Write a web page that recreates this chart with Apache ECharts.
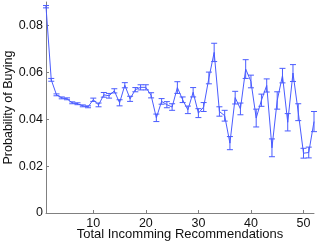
<!DOCTYPE html>
<html><head><meta charset="utf-8">
<script src="https://cdn.jsdelivr.net/npm/echarts@6/dist/echarts.min.js"></script>
<style>html,body{margin:0;padding:0;background:#fff}#c{width:319px;height:243px}</style>
</head><body><div id="c"></div>
<script>
const xValues = [1,2,3,4,5,6,7,8,9,10,11,12,13,14,15,16,17,18,19,20,21,22,23,24,25,26,27,28,29,30,31,32,33,34,35,36,37,38,39,40,41,42,43,44,45,46,47,48,49,50,51,52];
const probability = [0.0880,0.0568,0.0504,0.0491,0.0487,0.0470,0.0466,0.0457,0.0453,0.0483,
  0.0461,0.0504,0.0500,0.0521,0.0470,0.0545,0.0487,0.0526,0.0536,0.0536,
  0.0502,0.0406,0.0476,0.0462,0.0452,0.0535,0.0483,0.0440,0.0515,0.0426,
  0.0452,0.0576,0.0685,0.0433,0.0415,0.0298,0.0492,0.0444,0.0614,0.0561,
  0.0405,0.0481,0.0544,0.0278,0.0480,0.0586,0.0387,0.0597,0.0430,0.0255,
  0.0258,0.0390];
const errorValues = [0.0005,0.0006,0.0004,0.0004,0.0004,0.0004,0.0004,0.0004,0.0004,0.0007,
  0.0008,0.0010,0.0010,0.0009,0.0013,0.0011,0.0011,0.0009,0.0011,0.0011,
  0.0011,0.0016,0.0012,0.0013,0.0014,0.0025,0.0012,0.0016,0.0020,0.0019,
  0.0019,0.0025,0.0039,0.0020,0.0023,0.0028,0.0027,0.0025,0.0040,0.0027,
  0.0038,0.0026,0.0028,0.0038,0.0037,0.0031,0.0037,0.0036,0.0036,0.0021,
  0.0023,0.0043];
const xTicks = [10,20,30,40,50];
const yTicks = [0,0.02,0.04,0.06,0.08];
const xTitle = 'Total Incomming Recommendations';
const yTitle = 'Probability of Buying';

const lineColor = '#4a5cff';
const lineData = xValues.map((x,i)=>[x, probability[i]]);
const errData = xValues.map((x,i)=>[x, probability[i], errorValues[i]]);

const chart = echarts.init(document.getElementById('c'), null, {renderer:'canvas'});
const font = 'Liberation Sans, Arial, Helvetica, sans-serif';
chart.setOption({
  animation:false,
  backgroundColor:'#fff',
  grid:{left:46,right:5,top:2,bottom:30,containLabel:false,outerBoundsMode:'none'},
  xAxis:{type:'value',min:1,max:52,
    name:xTitle,nameLocation:'middle',nameGap:15,nameMoveOverlap:false,
    nameTextStyle:{color:'#111',fontSize:13,fontFamily:font,verticalAlign:'top'},
    axisLine:{show:true,lineStyle:{color:'#808080',width:1}},
    axisTick:{show:true,inside:true,length:3,customValues:xTicks,lineStyle:{color:'#808080'}},
    axisLabel:{customValues:xTicks,margin:4,color:'#111',fontSize:12.5,fontFamily:font},
    splitLine:{show:false}},
  yAxis:{type:'value',min:0,max:0.09,
    name:yTitle,nameLocation:'middle',nameGap:31,nameMoveOverlap:false,
    nameTextStyle:{color:'#111',fontSize:12.5,fontFamily:font,verticalAlign:'bottom'},
    axisLine:{show:true,lineStyle:{color:'#808080',width:1}},
    axisTick:{show:true,inside:true,length:3,customValues:yTicks,lineStyle:{color:'#808080'}},
    axisLabel:{customValues:yTicks,margin:3,color:'#111',fontSize:12.5,fontFamily:font,
      formatter:v=>v===0?'0':v.toFixed(2)},
    splitLine:{show:false}},
  series:[
    {type:'line',data:lineData,showSymbol:false,symbol:'none',
      lineStyle:{color:lineColor,width:1},z:2},
    {type:'custom',data:errData,z:3,
      renderItem:function(params,api){
        const x=api.value(0),y=api.value(1),e=api.value(2);
        const top=api.coord([x,y+e]);
        const bot=api.coord([x,y-e]);
        const w=3;
        const st={stroke:lineColor,lineWidth:1};
        return {type:'group',children:[
          {type:'line',shape:{x1:top[0],y1:top[1],x2:bot[0],y2:bot[1]},style:st},
          {type:'line',shape:{x1:top[0]-w,y1:top[1],x2:top[0]+w,y2:top[1]},style:st},
          {type:'line',shape:{x1:bot[0]-w,y1:bot[1],x2:bot[0]+w,y2:bot[1]},style:st}
        ]};
      }}
  ]
});
</script>
</body></html>
